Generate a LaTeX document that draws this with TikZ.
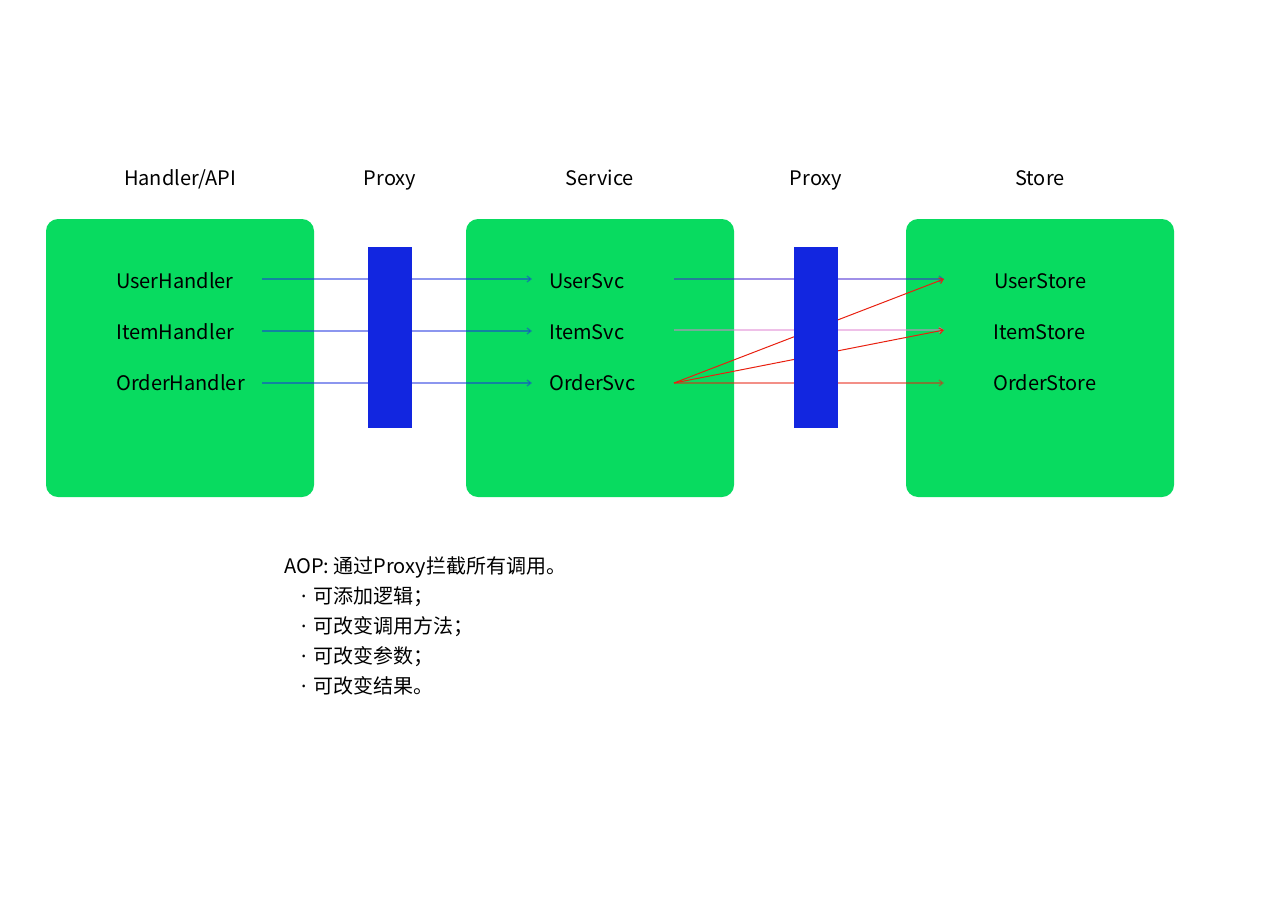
\documentclass[tikz,border=0pt]{standalone}
\usepackage{fontspec}
\setmainfont{Noto Sans CJK SC}
\newfontfamily\dotfont{Noto Sans}
\usetikzlibrary{arrows.meta}
\definecolor{boxgreen}{HTML}{08DB60}
\definecolor{proxyblue}{HTML}{1226E0}
\definecolor{lnblue}{HTML}{1A2EE0}
\definecolor{lnpurple}{HTML}{4121D1}
\definecolor{lnpink}{HTML}{E081D1}
\definecolor{lnred}{HTML}{E82010}
\tikzset{
  x=1pt, y=-1pt,
  layer/.style={fill=boxgreen, draw=none, rounded corners=12pt},
  proxybar/.style={fill=proxyblue, draw=none},
  head/.style={font=\fontsize{20}{24}\selectfont, inner sep=0pt, anchor=base},
  item/.style={font=\fontsize{20}{24}\selectfont, inner sep=0pt, anchor=base west},
  note/.style={font=\fontsize{20}{24}\selectfont, inner sep=0pt, anchor=base west},
  call/.style={line width=1.3pt, -{Straight Barb[length=4pt,width=6pt]}},
}
\newcommand{\bulletdot}{\makebox[12pt][l]{{\dotfont ·}}}
\begin{document}
\begin{tikzpicture}
\useasboundingbox (0,0) rectangle (1268,910);
% layers
\fill[layer] (46,219) rectangle (314,497);
\fill[layer] (466,219) rectangle (734,497);
\fill[layer] (906,219) rectangle (1174,497);
% headers
\node[head] (hH) at (180,185) {Handler/API};
\node[head] (hP1) at (390,185) {Proxy};
\node[head] (hS) at (600,185) {Service};
\node[head] (hP2) at (816,185) {Proxy};
\node[head] (hT) at (1040,185) {Store};
% items
\node[item] (uh) at (116,288) {UserHandler};
\node[item] (ih) at (116,339) {ItemHandler};
\node[item] (oh) at (116,390) {OrderHandler};
\node[item] (us) at (549,288) {UserSvc};
\node[item] (is) at (549,339) {ItemSvc};
\node[item] (os) at (549,390) {OrderSvc};
\node[item] (ut) at (994,288) {UserStore};
\node[item] (it) at (993,339) {ItemStore};
\node[item] (ot) at (993,390) {OrderStore};
% connector endpoints
\coordinate (uhO) at (262,279);
\coordinate (ihO) at (262,331);
\coordinate (ohO) at (262,383);
\coordinate (usI) at (532,279);
\coordinate (isI) at (532,331);
\coordinate (osI) at (532,383);
\coordinate (usO) at (674,279);
\coordinate (isO) at (674,330);
\coordinate (osO) at (674,383);
\coordinate (utI) at (944,279);
\coordinate (itI) at (944,330);
\coordinate (otI) at (944,383);
% connectors
\draw[call, draw=lnblue, draw opacity=0.5] (uhO) -- (usI);
\draw[call, draw=lnblue, draw opacity=0.5] (ihO) -- (isI);
\draw[call, draw=lnblue, draw opacity=0.5] (ohO) -- (osI);
\draw[call, draw=lnpurple, draw opacity=0.5] (usO) -- (utI);
\draw[call, draw=lnpink, draw opacity=0.5] (isO) -- (itI);
\draw[call, draw=lnred, draw opacity=0.5] (osO) -- (otI);
\draw[call, line width=1pt, draw=lnred] (osO) -- (utI);
\draw[call, line width=1pt, draw=lnred] (osO) -- (itI);
% proxies
\fill[proxybar] (368,247) rectangle (412,428);
\fill[proxybar] (794,247) rectangle (838,428);
% note
\node[note] (n0) at (284,573) {AOP: 通过Proxy拦截所有调用。};
\node[note] (n1) at (301,603) {\bulletdot 可添加逻辑；};
\node[note] (n2) at (301,633) {\bulletdot 可改变调用方法；};
\node[note] (n3) at (301,663) {\bulletdot 可改变参数；};
\node[note] (n4) at (301,693) {\bulletdot 可改变结果。};
\end{tikzpicture}
\end{document}
